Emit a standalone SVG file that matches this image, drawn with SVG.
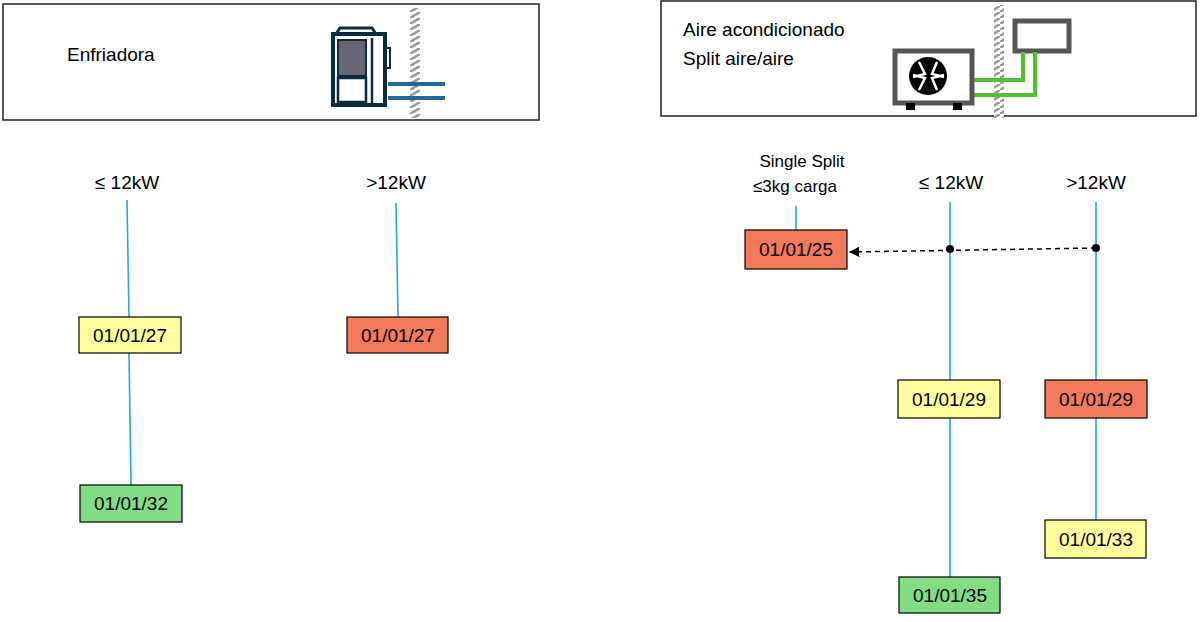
<svg xmlns="http://www.w3.org/2000/svg" width="1200" height="622" viewBox="0 0 1200 622">
<style>
.t{font-family:"Liberation Sans",Arial,sans-serif;font-size:19px;fill:#000}
.b{stroke:#000;stroke-width:1.2}
.y{fill:#ffff9e}.r{fill:#f47a5c}.g{fill:#80dd84}
.l{stroke:#2aa8cf;stroke-width:1.6;fill:none}
</style>
<defs>
<pattern id="h" width="10" height="6" patternUnits="userSpaceOnUse"><rect width="10" height="6" fill="#fff"/><path d="M0 6L10 0" stroke="#999" stroke-width="2.5"/></pattern>
<marker id="a" viewBox="0 0 10 10" refX="9" refY="5" markerWidth="7" markerHeight="7" orient="auto"><path d="M0 0L10 5L0 10z" fill="#000"/></marker>
</defs>
<rect width="1200" height="622" fill="#fff"/>
<g id="header-left">
<rect x="3" y="4" width="536" height="116" fill="#fff" stroke="#222" stroke-width="1.5"/>
<text class="t" x="67" y="61">Enfriadora</text>
<rect x="410" y="8" width="10" height="110" fill="url(#h)"/>
<path d="M388 84H445M388 98H445" stroke="#1f6a9a" stroke-width="4"/>
<path d="M340 28h32l4 6h-40z" fill="#fff" stroke="#0d2b3e" stroke-width="3"/>
<rect x="333" y="34" width="52" height="71" fill="#fff" stroke="#0d2b3e" stroke-width="4"/>
<rect x="338" y="40" width="28" height="36" fill="#667" stroke="#0d2b3e" stroke-width="2"/>
<rect x="338" y="78" width="28" height="24" fill="#fff" stroke="#0d2b3e" stroke-width="2.5"/>
<path d="M372 38V103" stroke="#0d2b3e" stroke-width="2.5"/>
<rect x="386" y="48" width="4" height="20" fill="#fff" stroke="#0d2b3e" stroke-width="2"/>
</g>
<g id="header-right">
<rect x="661" y="1" width="535" height="115" fill="#fff" stroke="#222" stroke-width="1.5"/>
<text class="t" x="683" y="36">Aire acondicionado</text>
<text class="t" x="683" y="65">Split aire/aire</text>
<rect x="994" y="5" width="10" height="113" fill="url(#h)"/>
<rect x="1015" y="21" width="54" height="30" fill="#fff" stroke="#555" stroke-width="5"/>
<path d="M973 80H1023V52M973 95H1035V52" fill="none" stroke="#55c02f" stroke-width="4"/>
<rect x="895" y="51" width="77" height="52" fill="#fff" stroke="#555" stroke-width="5"/>
<rect x="906" y="103" width="9" height="7" fill="#000"/><rect x="953" y="103" width="9" height="7" fill="#000"/>
<circle cx="928" cy="76" r="19" fill="#000"/>
<path d="M919 62l6 12-12 3M937 62l-5 12 12 3M919 90l6-12-12-3M937 90l-5-12 12-3" stroke="#fff" stroke-width="2.5" fill="none"/>
</g>
<g id="connectors">
<path class="l" d="M127 200L129 317M129 353L131 485M396 203L398 317M796 206V230M950 202V380M950 418V577M1096 202V380M1096 418V520"/>
<path d="M1096 248L850 252" stroke="#000" stroke-width="1.5" stroke-dasharray="5 4" marker-end="url(#a)"/>
<circle cx="950" cy="249" r="4"/><circle cx="1096" cy="248" r="4"/>
</g>
<g id="labels">
<text class="t" x="127" y="189" text-anchor="middle">≤ 12kW</text>
<text class="t" x="396" y="189" text-anchor="middle">&gt;12kW</text>
<text class="t" x="802" y="167" text-anchor="middle" style="font-size:17px">Single Split</text>
<text class="t" x="795" y="192" text-anchor="middle" style="font-size:17px">≤3kg carga</text>
<text class="t" x="951" y="189" text-anchor="middle">≤ 12kW</text>
<text class="t" x="1096" y="189" text-anchor="middle">&gt;12kW</text>
</g>
<g id="n1"><rect class="b y" x="79" y="317" width="102" height="36"/><text class="t" x="130" y="342" text-anchor="middle">01/01/27</text></g>
<g id="n2"><rect class="b g" x="80" y="485" width="102" height="37"/><text class="t" x="131" y="510" text-anchor="middle">01/01/32</text></g>
<g id="n3"><rect class="b r" x="347" y="317" width="101" height="36"/><text class="t" x="398" y="342" text-anchor="middle">01/01/27</text></g>
<g id="n4"><rect class="b r" x="745" y="230" width="102" height="39"/><text class="t" x="796" y="256" text-anchor="middle">01/01/25</text></g>
<g id="n5"><rect class="b y" x="898" y="380" width="102" height="38"/><text class="t" x="949" y="406" text-anchor="middle">01/01/29</text></g>
<g id="n6"><rect class="b g" x="899" y="577" width="101" height="36"/><text class="t" x="950" y="602" text-anchor="middle">01/01/35</text></g>
<g id="n7"><rect class="b r" x="1045" y="380" width="102" height="38"/><text class="t" x="1096" y="406" text-anchor="middle">01/01/29</text></g>
<g id="n8"><rect class="b y" x="1045" y="520" width="101" height="38"/><text class="t" x="1096" y="546" text-anchor="middle">01/01/33</text></g>
</svg>
